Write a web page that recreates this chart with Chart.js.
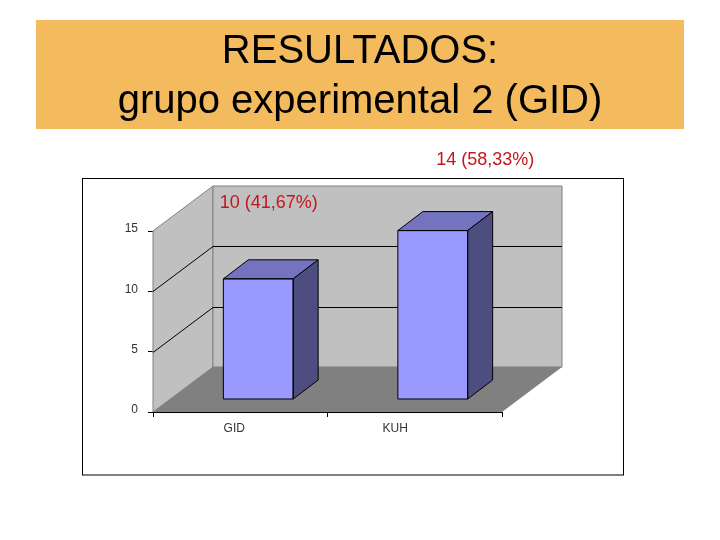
<!DOCTYPE html>
<html><head><meta charset="utf-8">
<style>html,body{margin:0;padding:0;background:#fff}#w{width:720px;height:540px}</style>
<script src="https://cdn.jsdelivr.net/npm/chart.js@4"></script>
</head><body><div id="w"><canvas id="c" width="720" height="540"></canvas></div>
<script>
const categories = ["GID", "KUH"];
const counts = [10, 14];
const valueLabels = ["10 (41,67%)", "14 (58,33%)"];
const yTicks = [0, 5, 10, 15];
const titleLines = ["RESULTADOS:", "grupo experimental 2 (GID)"];

const FONT = '"Liberation Sans", Arial, sans-serif';
const WALL = {dx: 60, dy: -45}, BAR = {dx: 18, dy: -12.5}, DEPTH = {dx: 25, dy: -19};
const CAT_LABEL_SHIFT = [-6, -19.5];
const VALUE_LABEL_SHIFT = [{dx: 28.5, dy: -76}, {dx: 70.5, dy: -70.5}];

function poly(ctx, pts, fill, stroke) {
  ctx.beginPath();
  pts.forEach((p, i) => i ? ctx.lineTo(p[0], p[1]) : ctx.moveTo(p[0], p[1]));
  ctx.closePath();
  if (fill) { ctx.fillStyle = fill; ctx.fill(); }
  if (stroke) { ctx.strokeStyle = stroke; ctx.lineWidth = 1; ctx.stroke(); }
}

const scene = {
  id: "scene",
  beforeDraw(chart) {
    const {ctx} = chart;
    ctx.save();
    ctx.fillStyle = "#fff"; ctx.fillRect(0, 0, 720, 540);
    ctx.fillStyle = "#F4BA5E"; ctx.fillRect(36, 20, 648, 109);
    ctx.fillStyle = "#fff"; ctx.strokeStyle = "#000"; ctx.lineWidth = 1;
    ctx.fillRect(82.5, 178.5, 541, 296.5); ctx.strokeRect(82.5, 178.5, 541, 296.5);
    ctx.restore();
  },
  beforeDatasetsDraw(chart) {
    const {ctx, chartArea: a, scales: {y}} = chart;
    const {dx, dy} = WALL;
    const t = y.getPixelForValue(yTicks[yTicks.length - 1]), b = y.getPixelForValue(0);
    ctx.save();
    poly(ctx, [[a.left, t], [a.left + dx, t + dy], [a.left + dx, b + dy], [a.left, b]], "#C0C0C0", "#808080");
    poly(ctx, [[a.left + dx, t + dy], [a.right + dx, t + dy], [a.right + dx, b + dy], [a.left + dx, b + dy]], "#C0C0C0", "#808080");
    poly(ctx, [[a.left, b], [a.right, b], [a.right + dx, b + dy], [a.left + dx, b + dy]], "#808080");
    ctx.strokeStyle = "#000"; ctx.lineWidth = 1;
    yTicks.slice(1, -1).forEach(v => {
      const p = Math.round(y.getPixelForValue(v)) + 0.5;
      ctx.beginPath();
      ctx.moveTo(a.left, p); ctx.lineTo(a.left + dx, p + dy); ctx.lineTo(a.right + dx, p + dy);
      ctx.stroke();
    });
    ctx.restore();
    ctx.save();
    ctx.translate(BAR.dx, BAR.dy);
  },
  afterDatasetsDraw(chart) {
    const {ctx} = chart;
    const {dx, dy} = DEPTH;
    chart.getDatasetMeta(0).data.forEach(el => {
      const l = el.x - el.width / 2, r = el.x + el.width / 2, t = el.y, b = el.base;
      poly(ctx, [[l, t], [r, t], [r + dx, t + dy], [l + dx, t + dy]], "#7373BF", "#000");
      poly(ctx, [[r, t], [r + dx, t + dy], [r + dx, b + dy], [r, b]], "#4D4D80", "#000");
      poly(ctx, [[l, t], [r, t], [r, b], [l, b]], null, "#000");
    });
    ctx.restore();
    ctx.save();
    ctx.textAlign = "center"; ctx.textBaseline = "middle";
    chart.getDatasetMeta(0).data.forEach((el, i) => {
      const top = el.y + BAR.dy;
      ctx.fillStyle = "#C4161C"; ctx.font = "18px " + FONT;
      ctx.fillText(valueLabels[i], el.x + VALUE_LABEL_SHIFT[i].dx, top + VALUE_LABEL_SHIFT[i].dy);
      ctx.fillStyle = "#333"; ctx.font = "12px " + FONT;
      ctx.fillText(categories[i], chart.scales.x.getPixelForTick(i) + CAT_LABEL_SHIFT[i], 428.5);
    });
    ctx.restore();
  }
};

new Chart(document.getElementById("c"), {
  type: "bar",
  plugins: [scene],
  data: {
    labels: categories,
    datasets: [{data: counts, backgroundColor: "#9999FF", borderWidth: 0, barPercentage: 0.4, categoryPercentage: 1}]
  },
  options: {
    responsive: false, animation: false, devicePixelRatio: 1,
    layout: {padding: 0},
    plugins: {
      legend: {display: false}, tooltip: {enabled: false},
      title: {
        display: true, text: titleLines, color: "#000",
        font: {family: FONT, size: 40, weight: "normal", lineHeight: 1.25},
        padding: {top: 27, bottom: 104}
      }
    },
    scales: {
      x: {
        afterFit(s) { s.height = 128; },
        grid: {display: true, offset: true, drawOnChartArea: false, tickLength: 5, color: "#000"},
        border: {color: "#000"},
        ticks: {display: false}
      },
      y: {
        min: 0, max: 15,
        afterFit(s) { s.width = 153; },
        grid: {drawOnChartArea: false, tickLength: 5, color: "#000"},
        border: {color: "#000"},
        ticks: {stepSize: 5, padding: 10, labelOffset: -2, color: "#333", font: {family: FONT, size: 12}}
      },
      spacer: {
        position: "right", display: true,
        afterFit(s) { s.width = 218; },
        grid: {display: false}, border: {display: false}, ticks: {display: false}
      }
    }
  }
});
</script></body></html>
